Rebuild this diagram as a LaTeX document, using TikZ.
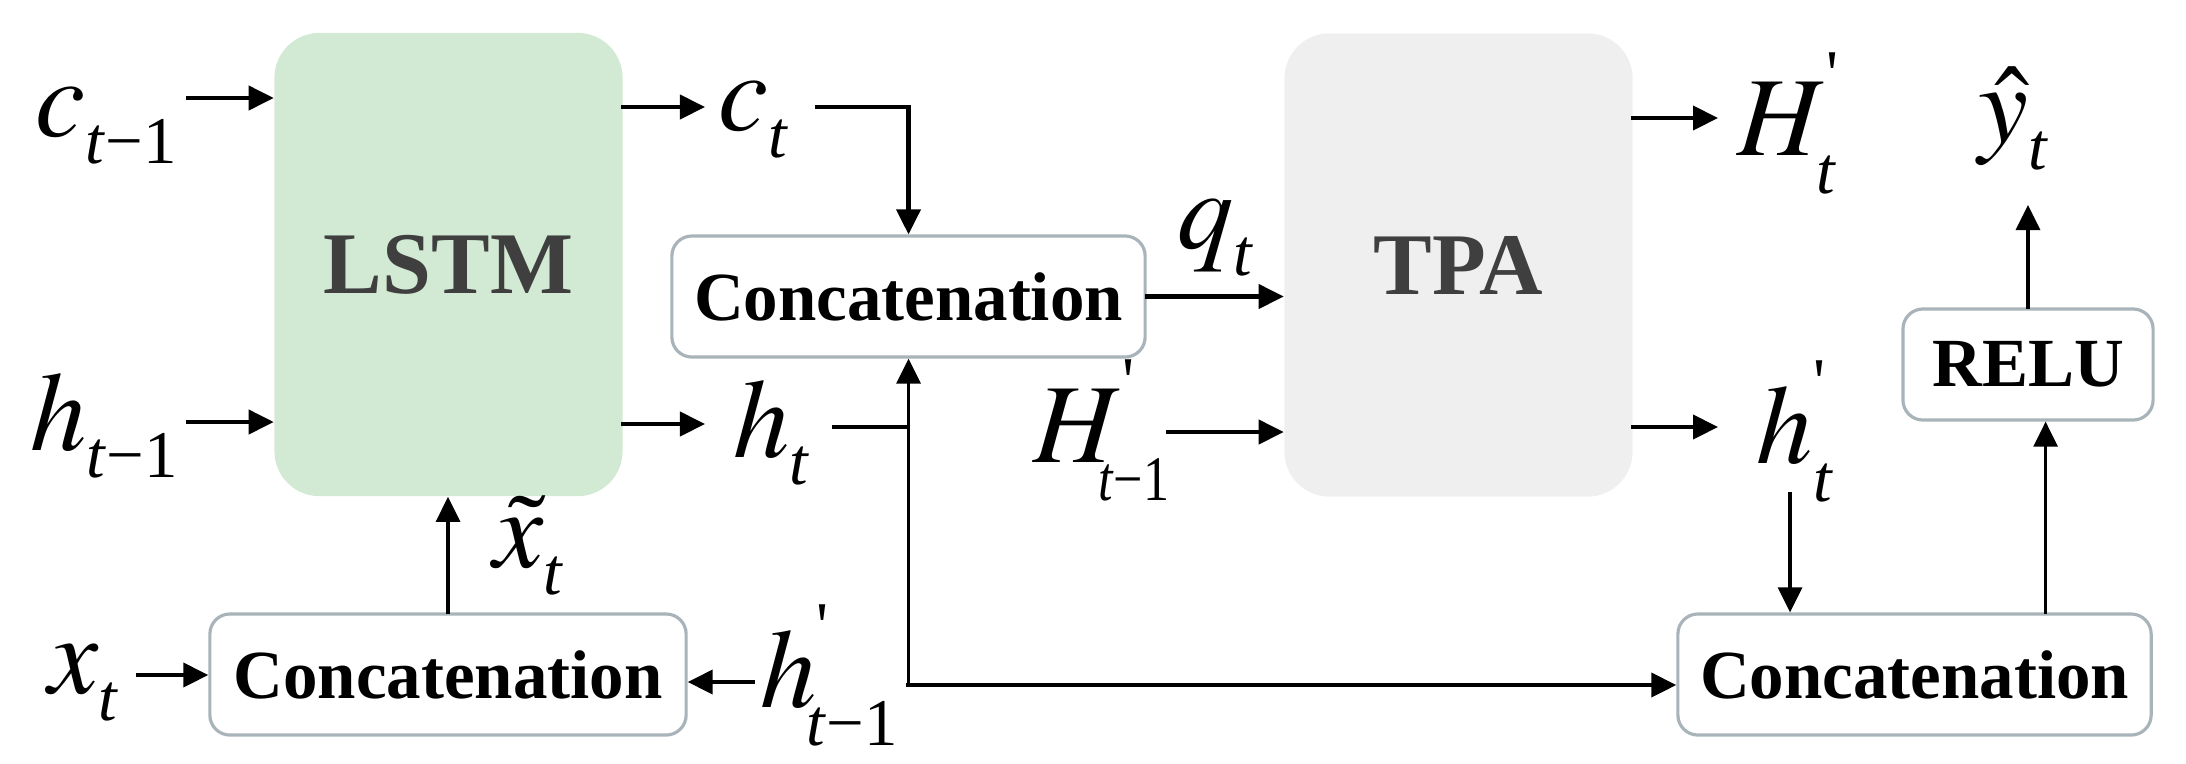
\documentclass[tikz,border=0pt]{standalone}
\usepackage{mathptmx}
\usepackage{fontspec}
\setmainfont{Liberation Serif}
\usetikzlibrary{arrows.meta,positioning}
\newcommand{\symsize}{\fontsize{32}{36}\selectfont}
\newcommand{\lowidx}[1]{_{\lower3pt\hbox{\fontsize{19}{20}\selectfont#1}}}
\newcommand{\narrowidx}[1]{_{\lower3pt\hbox{\kern-4pt\scalebox{0.78}[0.95]{\fontsize{19}{20}\selectfont#1}}}}
\newcommand{\tick}{^{\raise5pt\hbox{\fontsize{19}{20}\selectfont\textquotesingle}}}
\newcommand{\tm}{\textit{t}}
\definecolor{lstmgreen}{HTML}{D2EAD3}
\definecolor{tpagray}{HTML}{EFEFEF}
\definecolor{boxedge}{HTML}{A8B3BA}
\definecolor{darktext}{HTML}{3F3F3F}

\begin{document}
\begin{tikzpicture}[x=0.01cm, y=-0.01cm,
  conn/.style={line width=1.15pt, line cap=rect, -{Triangle[length=2.5mm,width=2.4mm]}},
  vconn/.style={conn, line width=0.9pt},
  plain/.style={line width=1.15pt},
  block/.style={rounded corners=4.5mm, minimum width=3.48cm, minimum height=4.63cm, inner sep=0pt, font=\fontsize{25}{30}\selectfont\bfseries, text=darktext},
  catbox/.style={draw=boxedge, line width=0.9pt, fill=white, rounded corners=2mm, inner sep=0pt, minimum height=1.21cm, font=\fontsize{19.6}{24}\selectfont\bfseries},
  sym/.style={anchor=base west, inner sep=0pt, font=\symsize}]
\useasboundingbox (0,0) rectangle (2186,763);
% LSTM and TPA blocks
\node[block, fill=lstmgreen] (lstm) at (448.5,264.5) {LSTM};
\node[block, fill=tpagray] (tpa) at (1458.5,265) {TPA};
% Concatenation and RELU boxes
\node[catbox, minimum width=4.73cm] (catA) at (908.5,296.5) {Concatenation};
\node[catbox, minimum width=4.76cm] (catB) at (448,674.5) {Concatenation};
\node[catbox, minimum width=4.73cm] (catC) at (1914.5,674.5) {Concatenation};
\node[catbox, minimum width=2.50cm, minimum height=1.11cm] (relu) at (2028,364.5) {RELU};
% symbols
\node[sym] (cprev) at (35,136) {$c\lowidx{\tm−1}$};
\node[sym] (hprev) at (30,450) {$h\lowidx{\tm−1}$};
\node[sym] (xt) at (48,693) {$x\lowidx{\tm}$};
\node[sym] (ct) at (718,130) {$c\lowidx{\tm}$};
\node[sym] (ht) at (733,457) {$h\lowidx{\tm}$};
\node[sym] (xtil) at (493,567) {$\tilde{x}\lowidx{\tm}$};
\node[sym] (hpprev) at (760,707) {$h\tick\lowidx{\kern-3pt\tm−1}$};
\node[sym] (qt) at (1177,248) {$q\lowidx{\tm}$};
\node[sym] (Hpprev) at (1033,462) {$H\tick\narrowidx{\tm−1}$};
\node[sym] (Hpt) at (1737,155) {$H\tick\lowidx{\tm}$};
\node[sym] (hpt) at (1756,463) {$h\tick\lowidx{\tm}$};
\node[sym] (yhat) at (1978,142) {$\hat{y}\lowidx{\tm}$};
% inputs to LSTM
\coordinate (a1) at (188,98);
\coordinate (a2) at (188,422);
\draw[conn] (a1) -- (a1 -| lstm.west);
\draw[conn] (a2) -- (a2 -| lstm.west);
% LSTM outputs
\coordinate (a3) at (705,107);
\coordinate (a4) at (705,424);
\draw[conn] (a3 -| lstm.east) -- (a3);
\draw[conn] (a4 -| lstm.east) -- (a4);
% c_t and h_t into the top concatenation
\coordinate (a5) at (817,107);
\draw[conn] (a5) -| (catA.north);
\coordinate (a6) at (832,427);
\coordinate (fork) at (908.5,685);
\draw[plain] (a6) -- (a6 -| catA.south);
\draw[vconn] (fork) -- (catA.south);
\draw[conn] (fork) -- (fork -| catC.west);
% bottom left concatenation
\coordinate (a7) at (138,675);
\coordinate (a8) at (753,682);
\draw[conn] (a7) -- (a7 -| catB.west);
\draw[conn] (a8) -- (a8 -| catB.east);
\draw[vconn] (catB.north) -- (catB.north |- lstm.south);
% TPA inputs and outputs
\coordinate (a9) at (1168,432);
\coordinate (a10) at (1718,118);
\coordinate (a11) at (1718,427);
\draw[conn] (catA.east) -- (catA.east -| tpa.west);
\draw[conn] (a9) -- (a9 -| tpa.west);
\draw[conn] (a10 -| tpa.east) -- (a10);
\draw[conn] (a11 -| tpa.east) -- (a11);
% output side
\coordinate (a12) at (1790,494);
\coordinate (a13) at (2028,205);
\draw[vconn] (a12) -- (a12 |- catC.north);
\draw[vconn] ([xshift=5]relu.south |- catC.north) -- ([xshift=5]relu.south);
\draw[vconn] (relu.north) -- (a13);
\end{tikzpicture}
\end{document}
